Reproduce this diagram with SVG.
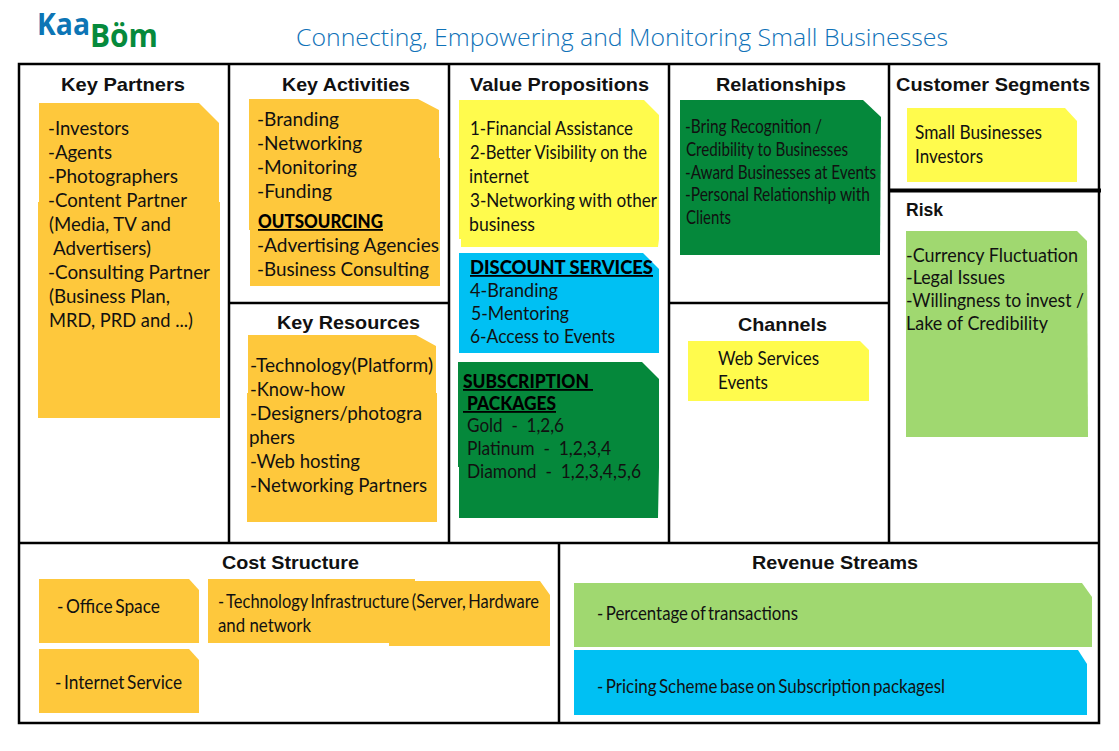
<svg xmlns="http://www.w3.org/2000/svg" width="1119" height="751" viewBox="0 0 1119 751">
<style>
.h{font:bold 18.5px "Liberation Sans",Arial,sans-serif;fill:#111}
.t{font:19px Lato,"Noto Sans",sans-serif;fill:#111}
.b{font:900 18px Lato,"Noto Sans",sans-serif;fill:#000;text-decoration:underline}
.grid{stroke:#000;stroke-width:2.5;fill:none}
.or{fill:#fec83c}.ye{fill:#fffb4d}.bl{fill:#00c0f3}.gr{fill:#05883b}.lg{fill:#a0d870}
</style>
<rect width="1119" height="751" fill="#fff"/>
<g id="logo">
<text x="37" y="35" textLength="53" lengthAdjust="spacingAndGlyphs" style="font:bold 31px 'Open Sans',sans-serif;fill:#0d75b5">Kaa</text>
<text x="90" y="47" textLength="68" lengthAdjust="spacingAndGlyphs" style="font:bold 32px 'Open Sans',sans-serif;fill:#068a3c">Böm</text>
</g>
<text id="title" x="296" y="46" textLength="652" lengthAdjust="spacingAndGlyphs" style="font:300 24.5px 'Open Sans',sans-serif;fill:#0f72b8">Connecting, Empowering and Monitoring Small Businesses</text>
<g id="grid" class="grid">
<rect x="19" y="64" width="1080" height="659"/>
<path d="M229 64V543M449 64V543M669 64V543M889 64V543M19 543H1099M229 303H449M669 303H889M559 543V723"/>
<path d="M889 190.500H1101" stroke-width="4"/>
</g>
<g id="key-partners">
<text class="h" x="61" y="91" textLength="124" lengthAdjust="spacingAndGlyphs">Key Partners</text>
<polygon class="or" points="39,103 199,103 219,123 219,202 220,202 220,418 38,418 38,202 39,202"/>
<text class="t" x="48" y="135" textLength="81" lengthAdjust="spacingAndGlyphs">-Investors</text>
<text class="t" x="48" y="159" textLength="64" lengthAdjust="spacingAndGlyphs">-Agents</text>
<text class="t" x="48" y="183" textLength="130" lengthAdjust="spacingAndGlyphs">-Photographers</text>
<text class="t" x="48" y="207" textLength="139" lengthAdjust="spacingAndGlyphs">-Content Partner</text>
<text class="t" x="49" y="231" textLength="122" lengthAdjust="spacingAndGlyphs">(Media, TV and</text>
<text class="t" x="53" y="255" textLength="98" lengthAdjust="spacingAndGlyphs">Advertisers)</text>
<text class="t" x="48" y="279" textLength="162" lengthAdjust="spacingAndGlyphs">-Consulting Partner</text>
<text class="t" x="49" y="303" textLength="121" lengthAdjust="spacingAndGlyphs">(Business Plan,</text>
<text class="t" x="49" y="327" textLength="144" lengthAdjust="spacingAndGlyphs">MRD, PRD and  ...)</text>
</g>
<g id="key-activities">
<text class="h" x="282" y="91" textLength="128" lengthAdjust="spacingAndGlyphs">Key Activities</text>
<polygon class="or" points="249,99 418,99 439,110 439,158 440,158 440,286 250,286 250,230 249,230"/>
<text class="t" x="257" y="126" textLength="82" lengthAdjust="spacingAndGlyphs">-Branding</text>
<text class="t" x="257" y="150" textLength="105" lengthAdjust="spacingAndGlyphs">-Networking</text>
<text class="t" x="257" y="174" textLength="100" lengthAdjust="spacingAndGlyphs">-Monitoring</text>
<text class="t" x="257" y="198" textLength="75" lengthAdjust="spacingAndGlyphs">-Funding</text>
<text class="b" x="258" y="228" textLength="125" lengthAdjust="spacingAndGlyphs">OUTSOURCING</text>
<text class="t" x="257" y="252" textLength="182" lengthAdjust="spacingAndGlyphs">-Advertising Agencies</text>
<text class="t" x="257" y="276" textLength="172" lengthAdjust="spacingAndGlyphs">-Business Consulting</text>
</g>
<g id="key-resources">
<text class="h" x="277" y="329" textLength="143" lengthAdjust="spacingAndGlyphs">Key Resources</text>
<polygon class="or" points="248,335 416,335 436,346 436,393 437,393 437,522 247,522 247,393 248,393"/>
<text class="t" x="250" y="372" textLength="183" lengthAdjust="spacingAndGlyphs">-Technology(Platform)</text>
<text class="t" x="250" y="396" textLength="95" lengthAdjust="spacingAndGlyphs">-Know-how</text>
<text class="t" x="250" y="420" textLength="172" lengthAdjust="spacingAndGlyphs">-Designers/photogra</text>
<text class="t" x="249" y="444" textLength="46" lengthAdjust="spacingAndGlyphs">phers</text>
<text class="t" x="250" y="468" textLength="110" lengthAdjust="spacingAndGlyphs">-Web hosting</text>
<text class="t" x="250" y="492" textLength="177" lengthAdjust="spacingAndGlyphs">-Networking Partners</text>
</g>
<g id="value-propositions">
<text class="h" x="470" y="91" textLength="179" lengthAdjust="spacingAndGlyphs">Value Propositions</text>
<polygon class="ye" points="459,100 644,100 659,115 659,239 658,247 461,247 461,239 459,239"/>
<text class="t" x="470" y="135" textLength="163" lengthAdjust="spacingAndGlyphs">1-Financial Assistance</text>
<text class="t" x="470" y="159" textLength="177" lengthAdjust="spacingAndGlyphs">2-Better Visibility on the</text>
<text class="t" x="469" y="183" textLength="60" lengthAdjust="spacingAndGlyphs">internet</text>
<text class="t" x="470" y="207" textLength="187" lengthAdjust="spacingAndGlyphs">3-Networking with other</text>
<text class="t" x="469" y="231" textLength="66" lengthAdjust="spacingAndGlyphs">business</text>
</g>
<g id="discount-services">
<polygon class="bl" points="459,253 643,253 659,269 659,353 459,353"/>
<text class="b" x="470" y="274" textLength="183" lengthAdjust="spacingAndGlyphs">DISCOUNT SERVICES</text>
<text class="t" x="470" y="297" textLength="88" lengthAdjust="spacingAndGlyphs">4-Branding</text>
<text class="t" x="471" y="320" textLength="98" lengthAdjust="spacingAndGlyphs">5-Mentoring</text>
<text class="t" x="470" y="343" textLength="145" lengthAdjust="spacingAndGlyphs">6-Access to Events</text>
</g>
<g id="subscription-packages">
<polygon class="gr" points="458,362 642,362 659,379 659,467 658,518 459,518 459,467 458,467"/>
<text class="b" x="463" y="388" xml:space="preserve" textLength="130" lengthAdjust="spacingAndGlyphs">SUBSCRIPTION </text>
<text class="b" x="463" y="410" xml:space="preserve" textLength="93" lengthAdjust="spacingAndGlyphs"> PACKAGES</text>
<text class="t" x="467" y="432" xml:space="preserve" textLength="97" lengthAdjust="spacingAndGlyphs">Gold  -  1,2,6</text>
<text class="t" x="467" y="455" xml:space="preserve" textLength="144" lengthAdjust="spacingAndGlyphs">Platinum  -  1,2,3,4</text>
<text class="t" x="467" y="478" xml:space="preserve" textLength="174" lengthAdjust="spacingAndGlyphs">Diamond  -  1,2,3,4,5,6</text>
</g>
<g id="relationships">
<text class="h" x="716" y="91" textLength="130" lengthAdjust="spacingAndGlyphs">Relationships</text>
<polygon class="gr" points="680,100 863,100 881,117 880,255 680,255"/>
<text class="t" x="685" y="133" textLength="137" lengthAdjust="spacingAndGlyphs">-Bring Recognition /</text>
<text class="t" x="686" y="156" textLength="162" lengthAdjust="spacingAndGlyphs">Credibility to Businesses</text>
<text class="t" x="685" y="179" textLength="191" lengthAdjust="spacingAndGlyphs">-Award Businesses at Events</text>
<text class="t" x="685" y="201" textLength="185" lengthAdjust="spacingAndGlyphs">-Personal Relationship with</text>
<text class="t" x="686" y="224" textLength="45" lengthAdjust="spacingAndGlyphs">Clients</text>
</g>
<g id="channels">
<text class="h" x="738" y="331" textLength="89" lengthAdjust="spacingAndGlyphs">Channels</text>
<polygon class="ye" points="688,341 860,341 869,350 869,401 688,401"/>
<text class="t" x="718" y="365" textLength="101" lengthAdjust="spacingAndGlyphs">Web Services</text>
<text class="t" x="718" y="389" textLength="50" lengthAdjust="spacingAndGlyphs">Events</text>
</g>
<g id="customer-segments">
<text class="h" x="896" y="91" textLength="194" lengthAdjust="spacingAndGlyphs">Customer Segments</text>
<polygon class="ye" points="907,108 1065,108 1077,121 1077,182 907,182"/>
<text class="t" x="915" y="139" textLength="127" lengthAdjust="spacingAndGlyphs">Small Businesses</text>
<text class="t" x="915" y="163" textLength="68" lengthAdjust="spacingAndGlyphs">Investors</text>
</g>
<g id="risk">
<text class="h" x="906" y="216" textLength="37" lengthAdjust="spacingAndGlyphs">Risk</text>
<polygon class="lg" points="906,231 1077,231 1087,241 1088,437 906,437"/>
<text class="t" x="906" y="262" textLength="172" lengthAdjust="spacingAndGlyphs">-Currency Fluctuation</text>
<text class="t" x="906" y="284" textLength="99" lengthAdjust="spacingAndGlyphs">-Legal Issues</text>
<text class="t" x="906" y="307" textLength="178" lengthAdjust="spacingAndGlyphs">-Willingness to invest /</text>
<text class="t" x="906" y="330" textLength="142" lengthAdjust="spacingAndGlyphs">Lake of Credibility</text>
</g>
<g id="cost-structure">
<text class="h" x="222" y="569" textLength="137" lengthAdjust="spacingAndGlyphs">Cost Structure</text>
</g>
<g id="office-space">
<polygon class="or" points="39,579 189,579 199,590 199,643 39,643"/>
<text class="t" x="57" y="613" textLength="103" lengthAdjust="spacingAndGlyphs" word-spacing="-2">- Office Space</text>
</g>
<g id="internet-service">
<polygon class="or" points="39,649 189,649 199,660 199,713 39,713"/>
<text class="t" x="55" y="689" textLength="127" lengthAdjust="spacingAndGlyphs" word-spacing="-2">- Internet Service</text>
</g>
<g id="technology-infrastructure">
<polygon class="or" points="208,579 415,579 415,581 540,581 550,595 550,646 389,646 389,643 208,643"/>
<text class="t" x="218" y="608" textLength="321" lengthAdjust="spacingAndGlyphs" word-spacing="-2">- Technology Infrastructure (Server, Hardware</text>
<text class="t" x="218" y="632" textLength="93" lengthAdjust="spacingAndGlyphs">and network</text>
</g>
<g id="revenue-streams">
<text class="h" x="752" y="569" textLength="166" lengthAdjust="spacingAndGlyphs">Revenue Streams</text>
</g>
<g id="percentage">
<polygon class="lg" points="574,583 1082,583 1092,597 1092,647 574,647"/>
<text class="t" x="597" y="620" textLength="201" lengthAdjust="spacingAndGlyphs" word-spacing="-2">- Percentage of transactions</text>
</g>
<g id="pricing">
<polygon class="bl" points="574,650 1078,650 1087,664 1087,715 574,715"/>
<text class="t" x="597" y="693" textLength="348" lengthAdjust="spacingAndGlyphs" word-spacing="-2">- Pricing Scheme base on Subscription packagesl</text>
</g>
</svg>
